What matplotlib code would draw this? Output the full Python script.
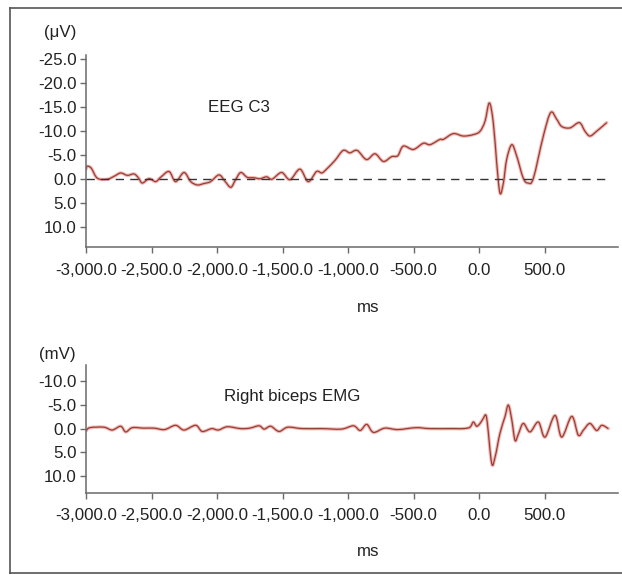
import matplotlib
matplotlib.use("Agg")
import matplotlib.pyplot as plt
from matplotlib.lines import Line2D
from matplotlib.path import Path
from matplotlib.patches import PathPatch

plt.rcParams['font.family'] = ['Liberation Sans', 'DejaVu Sans']

# ---- data ----
eeg_t = [-3000, -2990, -2960, -2913, -2837, -2786, -2735, -2684, -2634, -2600, -2570, -2519, -2468,
         -2430, -2366, -2316, -2252, -2201, -2150, -2100, -2049, -1985, -1940, -1895, -1860, -1819,
         -1770, -1718, -1672, -1621, -1580, -1507, -1443, -1367, -1304, -1240, -1200, -1164, -1100,
         -1037, -986, -930, -859, -794, -730, -667, -620, -578, -501, -425, -374, -298, -272, -196,
         -120, -43, 8, 46, 79, 109, 135, 160, 186, 211, 250, 288, 338, 376, 415, 491, 547, 593, 631,
         695, 766, 809, 847, 898, 975]
eeg_v = [-2.0, -2.6, -2.2, -0.1, 0.1, -0.5, -1.2, -0.7, -1.0, -0.2, 0.9, 0.0, 0.6,
         -0.3, -1.5, 0.6, -1.3, 0.6, 1.3, 1.0, 0.6, -0.8, 0.5, 1.8, 0.3, -1.3,
         -0.3, -0.2, 0.0, -0.4, 0.1, -1.3, 0.2, -2.0, 0.6, -1.5, -1.2, -2.0, -3.8,
         -5.9, -5.4, -5.9, -4.0, -5.2, -3.6, -4.6, -4.8, -6.8, -6.1, -7.4, -7.1, -8.2, -8.2, -9.4,
         -8.9, -9.2, -9.9, -12.0, -15.8, -11.7, -3.3, 3.0, 0.9, -4.0, -7.1, -4.7, -0.1, 0.9, -0.1, -8.9, -13.8, -12.4, -10.9,
         -10.6, -11.7, -9.9, -8.9, -9.9, -11.7]

emg_t = [-3000, -2970, -2863, -2800, -2735, -2697, -2646, -2560, -2481, -2400, -2316, -2252, -2163,
         -2113, -2040, -1990, -1921, -1820, -1750, -1679, -1640, -1590, -1527, -1460, -1350, -1200,
         -1050, -958, -907, -857, -806, -720, -620, -480, -374, -200, -120, -69, -43, -18, 8, 33, 51,
         64, 97, 123, 160, 198, 224, 250, 275, 300, 338, 389, 453, 504, 580, 631, 708, 758, 800,
         847, 898, 937, 987]
emg_v = [0.5, -0.2, -0.3, 0.3, -0.5, 0.7, -0.2, -0.1, -0.1, 0.2, -0.7, 0.3, -0.7,
         0.6, 0.0, 0.3, -0.4, 0.0, -0.1, -0.6, 0.1, -0.5, 0.6, -0.3, 0.0, 0.0,
         0.1, -0.6, 0.4, -0.9, 0.8, -0.1, 0.2, -0.2, 0.0, 0.0, 0.0, -0.3, -1.4, -0.5, -1.1, -2.2, -2.9,
         -1.1, 7.4, 6.0, 1.0, -2.5, -5.0, -1.9, 2.5, 1.2, -1.1, 0.7, -1.4, 1.8, -2.8, 1.8, -2.6, 1.4, 0.2,
         -1.1, 0.4, -0.7, 0.0]

xticks = [-3000, -2500, -2000, -1500, -1000, -500, 0, 500]
xticklabels = ["-3,000.0", "-2,500.0", "-2,000.0", "-1,500.0", "-1,000.0", "-500.0", "0.0", "500.0"]
eeg_yticks = [-25, -20, -15, -10, -5, 0, 5, 10]
emg_yticks = [-10, -5, 0, 5, 10]

W, H = 622, 575
fig = plt.figure(figsize=(W / 100, H / 100), dpi=100)

def px(x, y):
    return x / W, 1 - y / H

FS = 12.2
axis_col = '#6a6a6a'
text_col = '#222222'

def style(ax, yticks):
    for s in ['top', 'right']:
        ax.spines[s].set_visible(False)
    for s in ['left', 'bottom']:
        ax.spines[s].set_color(axis_col)
        ax.spines[s].set_linewidth(1.1)
    ax.set_xlim(-3000, 1061)
    ax.set_xticks(xticks)
    ax.set_xticklabels(xticklabels)
    ax.set_yticks(yticks)
    ax.set_yticklabels([f"{v:.1f}" for v in yticks])
    ax.tick_params(axis='both', colors=axis_col, labelcolor=text_col, labelsize=FS,
                   length=4.3, width=1.0, direction='out')
    ax.tick_params(axis='y', pad=2.5)
    ax.tick_params(axis='x', pad=7.0)

def smooth_path(t, v):
    # Catmull-Rom curve through the read points, drawn as cubic Bezier segments
    verts = [(t[0], v[0])]
    codes = [Path.MOVETO]
    n = len(t)
    for i in range(n - 1):
        p0 = (t[i - 1], v[i - 1]) if i > 0 else (t[i], v[i])
        p1 = (t[i], v[i])
        p2 = (t[i + 1], v[i + 1])
        p3 = (t[i + 2], v[i + 2]) if i + 2 < n else (t[i + 1], v[i + 1])
        c1 = (p1[0] + (p2[0] - p0[0]) / 6, p1[1] + (p2[1] - p0[1]) / 6)
        c2 = (p2[0] - (p3[0] - p1[0]) / 6, p2[1] - (p3[1] - p1[1]) / 6)
        verts += [c1, c2, p2]
        codes += [Path.CURVE4] * 3
    return Path(verts, codes)

def trace(ax, t, v):
    path = smooth_path(t, v)
    ax.add_patch(PathPatch(path, facecolor='none', edgecolor='#f4b4ae', lw=2.4,
                           capstyle='round', joinstyle='round'))
    ax.add_patch(PathPatch(path, facecolor='none', edgecolor='#94403a', lw=0.9,
                           joinstyle='round'))

# top panel
ax1 = fig.add_axes([86 / W, 1 - 247.3 / H, 532 / W, 192.3 / H])
ax1.set_ylim(14.3, -25.8)
style(ax1, eeg_yticks)
ax1.plot([-3000, 1000], [0, 0], color='#333333', lw=1.0, dashes=(6, 4.5))
trace(ax1, eeg_t, eeg_v)

# bottom panel
ax2 = fig.add_axes([86 / W, 1 - 492.7 / H, 532 / W, 127.7 / H])
ax2.set_ylim(13.6, -13.5)
style(ax2, emg_yticks)
trace(ax2, emg_t, emg_v)

# texts
fig.text(*px(60, 33), "(μV)", ha='center', va='center', fontsize=FS, color=text_col)
fig.text(*px(239, 107), "EEG C3", ha='center', va='center', fontsize=FS, color=text_col)
fig.text(*px(368, 308), "ms", ha='center', va='center', fontsize=FS, color=text_col)
fig.text(*px(57, 355), "(mV)", ha='center', va='center', fontsize=FS, color=text_col)
fig.text(*px(292, 397), "Right biceps EMG", ha='center', va='center', fontsize=FS, color=text_col)
fig.text(*px(368, 552), "ms", ha='center', va='center', fontsize=FS, color=text_col)

# outer frame (left, top, bottom edges)
frame_col = '#555555'
fig.add_artist(Line2D([10 / W, 10 / W], [1 - 7.5 / H, 1 - 573 / H], color=frame_col, lw=1.2,
                      transform=fig.transFigure))
fig.add_artist(Line2D([10 / W, 1.0], [1 - 7.5 / H, 1 - 7.5 / H], color=frame_col, lw=1.2,
                      transform=fig.transFigure))
fig.add_artist(Line2D([10 / W, 1.0], [1 - 573 / H, 1 - 573 / H], color=frame_col, lw=1.2,
                      transform=fig.transFigure))

fig.savefig("out.png", dpi=100)
